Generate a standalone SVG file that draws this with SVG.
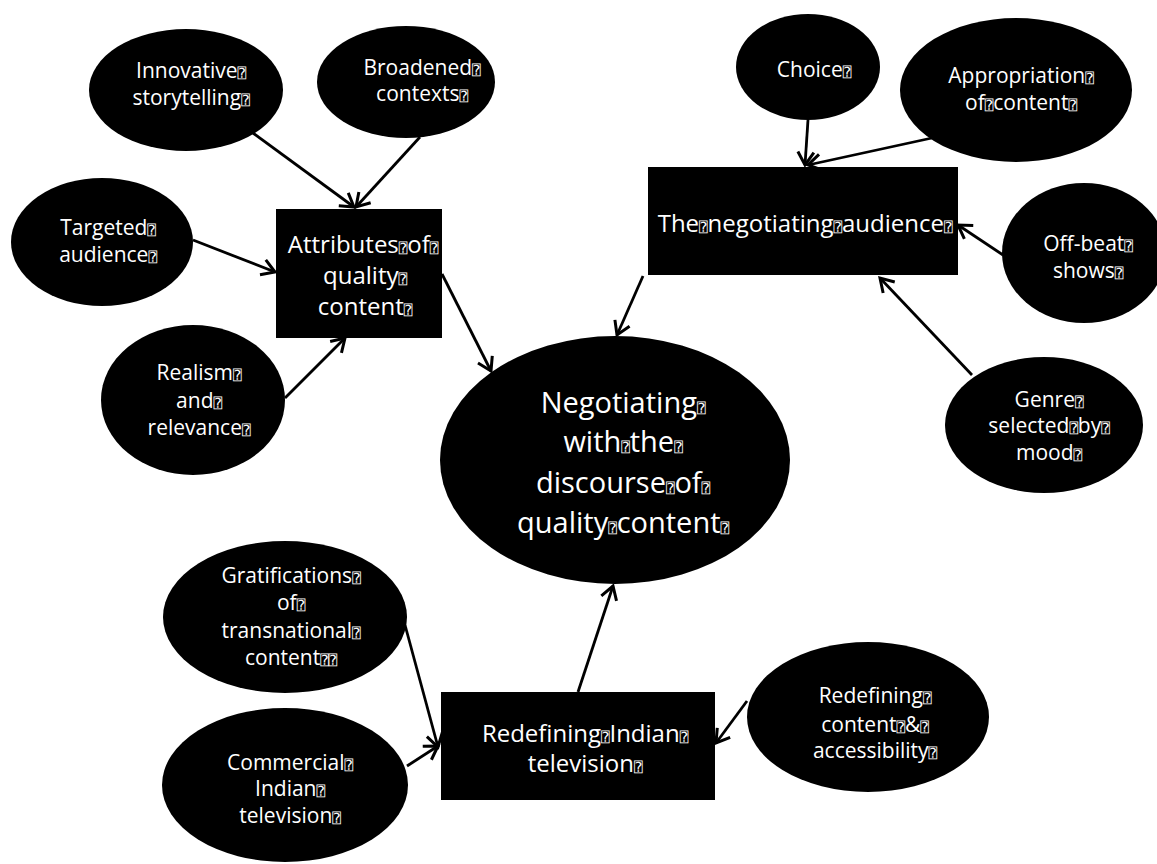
<svg xmlns="http://www.w3.org/2000/svg" width="1157" height="864" viewBox="0 0 1157 864">
<defs>
<marker id="ah" markerUnits="userSpaceOnUse" markerWidth="24" markerHeight="24" viewBox="0 0 24 24" refX="20" refY="12" orient="auto">
<path d="M7,4 L20,12 L7,20" fill="none" stroke="#000" stroke-width="3" stroke-linejoin="miter"/>
</marker>
</defs>
<style>
.n{fill:#000}
.t{fill:#fff;font-family:"Open Sans","Liberation Sans",sans-serif;text-anchor:middle}
.e{font-size:21px}
.b{font-size:24px}
.c{font-size:29px}
.q{font-family:"DejaVu Sans Mono","DejaVu Sans",monospace;font-size:14px}
.k line{stroke:#000;stroke-width:2.8;marker-end:url(#ah)}
</style>
<g class="k" id="connectors">
<line x1="253" y1="133" x2="354" y2="207"/>
<line x1="420" y1="137" x2="356" y2="207"/>
<line x1="193" y1="240" x2="275" y2="272"/>
<line x1="285" y1="398" x2="345" y2="338"/>
<line x1="442" y1="274" x2="491" y2="371"/>
<line x1="643" y1="276" x2="617" y2="335"/>
<line x1="808" y1="120" x2="805" y2="165"/>
<line x1="932" y1="138" x2="808" y2="165"/>
<line x1="1003" y1="255" x2="958" y2="225"/>
<line x1="972" y1="375" x2="880" y2="278"/>
<line x1="578" y1="692" x2="613" y2="586"/>
<line x1="405" y1="625" x2="438" y2="747"/>
<line x1="407" y1="766" x2="438" y2="746"/>
<line x1="747" y1="701" x2="716" y2="743"/>
</g>
<g id="center">
<ellipse class="n" cx="615" cy="460" rx="175" ry="124"/>
<text class="t c"><tspan x="623" y="413">Negotiating<tspan class="q">⍰</tspan></tspan><tspan x="623" y="452">with<tspan class="q">⍰</tspan>the<tspan class="q">⍰</tspan></tspan><tspan x="623" y="493">discourse<tspan class="q">⍰</tspan>of<tspan class="q">⍰</tspan></tspan><tspan x="623" y="533">quality<tspan class="q">⍰</tspan>content<tspan class="q">⍰</tspan></tspan></text>
</g>
<g id="attributes">
<rect class="n" x="276" y="209" width="166" height="129"/>
<text class="t b"><tspan x="363" y="253">Attributes<tspan class="q">⍰</tspan>of<tspan class="q">⍰</tspan></tspan><tspan x="365" y="284">quality<tspan class="q">⍰</tspan></tspan><tspan x="365" y="315">content<tspan class="q">⍰</tspan></tspan></text>
</g>
<g id="innovative">
<ellipse class="n" cx="186" cy="90" rx="97" ry="61"/>
<text class="t e"><tspan x="191" y="78">Innovative<tspan class="q">⍰</tspan></tspan><tspan x="191" y="105">storytelling<tspan class="q">⍰</tspan></tspan></text>
</g>
<g id="broadened">
<ellipse class="n" cx="406" cy="82" rx="89" ry="56"/>
<text class="t e"><tspan x="422" y="75">Broadened<tspan class="q">⍰</tspan></tspan><tspan x="422" y="101">contexts<tspan class="q">⍰</tspan></tspan></text>
</g>
<g id="targeted">
<ellipse class="n" cx="102" cy="242" rx="91" ry="64"/>
<text class="t e"><tspan x="108" y="235">Targeted<tspan class="q">⍰</tspan></tspan><tspan x="108" y="262">audience<tspan class="q">⍰</tspan></tspan></text>
</g>
<g id="realism">
<ellipse class="n" cx="193" cy="400" rx="92" ry="75"/>
<text class="t e"><tspan x="199" y="380">Realism<tspan class="q">⍰</tspan></tspan><tspan x="199" y="408">and<tspan class="q">⍰</tspan></tspan><tspan x="199" y="435">relevance<tspan class="q">⍰</tspan></tspan></text>
</g>
<g id="negotiating-audience">
<rect class="n" x="648" y="167" width="310" height="108"/>
<text class="t b"><tspan x="805" y="232">The<tspan class="q">⍰</tspan>negotiating<tspan class="q">⍰</tspan>audience<tspan class="q">⍰</tspan></tspan></text>
</g>
<g id="choice">
<ellipse class="n" cx="808" cy="67" rx="72" ry="53"/>
<text class="t e"><tspan x="814" y="77">Choice<tspan class="q">⍰</tspan></tspan></text>
</g>
<g id="appropriation">
<ellipse class="n" cx="1016" cy="90" rx="116" ry="72"/>
<text class="t e"><tspan x="1021" y="83">Appropriation<tspan class="q">⍰</tspan></tspan><tspan x="1021" y="110">of<tspan class="q">⍰</tspan>content<tspan class="q">⍰</tspan></tspan></text>
</g>
<g id="offbeat">
<ellipse class="n" cx="1084" cy="253" rx="82" ry="70"/>
<text class="t e"><tspan x="1088" y="251">Off-beat<tspan class="q">⍰</tspan></tspan><tspan x="1088" y="278">shows<tspan class="q">⍰</tspan></tspan></text>
</g>
<g id="genre">
<ellipse class="n" cx="1044" cy="425" rx="99" ry="68"/>
<text class="t e"><tspan x="1049" y="407">Genre<tspan class="q">⍰</tspan></tspan><tspan x="1049" y="433">selected<tspan class="q">⍰</tspan>by<tspan class="q">⍰</tspan></tspan><tspan x="1049" y="460">mood<tspan class="q">⍰</tspan></tspan></text>
</g>
<g id="redefining-indian-tv">
<rect class="n" x="441" y="692" width="274" height="108"/>
<text class="t b"><tspan x="585" y="742">Redefining<tspan class="q">⍰</tspan>Indian<tspan class="q">⍰</tspan></tspan><tspan x="585" y="772">television<tspan class="q">⍰</tspan></tspan></text>
</g>
<g id="gratifications">
<ellipse class="n" cx="285" cy="617" rx="122" ry="76"/>
<text class="t e"><tspan x="291" y="583">Gratifications<tspan class="q">⍰</tspan></tspan><tspan x="291" y="610">of<tspan class="q">⍰</tspan></tspan><tspan x="291" y="638">transnational<tspan class="q">⍰</tspan></tspan><tspan x="291" y="665">content<tspan class="q">⍰⍰</tspan></tspan></text>
</g>
<g id="commercial">
<ellipse class="n" cx="285" cy="785" rx="123" ry="77"/>
<text class="t e"><tspan x="290" y="770">Commercial<tspan class="q">⍰</tspan></tspan><tspan x="290" y="796">Indian<tspan class="q">⍰</tspan></tspan><tspan x="290" y="823">television<tspan class="q">⍰</tspan></tspan></text>
</g>
<g id="redefining-content">
<ellipse class="n" cx="868" cy="717" rx="121" ry="75"/>
<text class="t e"><tspan x="875" y="703">Redefining<tspan class="q">⍰</tspan></tspan><tspan x="875" y="732">content<tspan class="q">⍰</tspan>&amp;<tspan class="q">⍰</tspan></tspan><tspan x="875" y="758">accessibility<tspan class="q">⍰</tspan></tspan></text>
</g>
</svg>
